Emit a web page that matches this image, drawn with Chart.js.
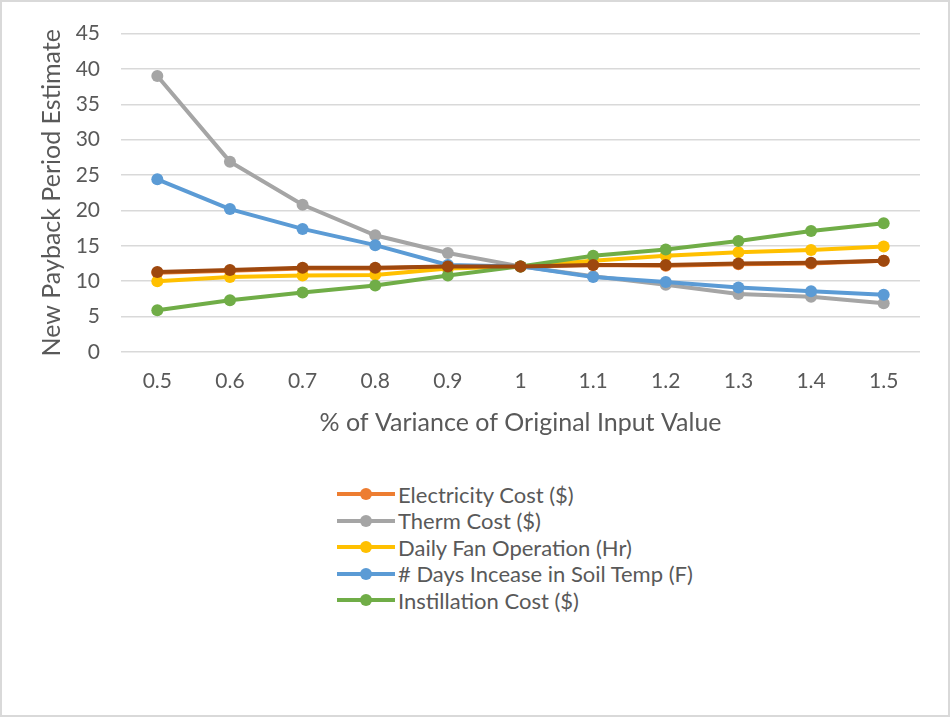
<!DOCTYPE html>
<html>
<head>
<meta charset="utf-8">
<script src="https://cdn.jsdelivr.net/npm/chart.js@4.4.1/dist/chart.umd.min.js"></script>
<style>
  html, body { margin: 0; padding: 0; background: #fff; }
  #frame {
    position: relative; width: 946px; height: 713px;
    border: 2px solid #d9d9d9; background: #fff; overflow: hidden;
  }
  #chartBox { position: absolute; left: -2px; top: -2px; width: 950px; height: 444px; }
  #legend {
    position: absolute; left: 335px; top: 479px;
    font-family: Lato, "DejaVu Sans", sans-serif; font-size: 22px; color: #595959;
  }
  .item { display: flex; align-items: center; height: 26.5px; white-space: nowrap; }
  .mark { position: relative; width: 58px; height: 26px; margin-right: 3px; flex: none; }
  .mark .ln { position: absolute; left: 0; right: 0; top: 11px; height: 4px; }
  .mark .pt { position: absolute; left: 23px; top: 7px; width: 12px; height: 12px; border-radius: 50%; }
</style>
</head>
<body>
<div id="frame">
  <div id="chartBox"><canvas id="graphCanvas"></canvas></div>
  <div id="legend"></div>
</div>
<script>
// カテゴリ（元の入力値に対する割合）
const categories = ["0.5", "0.6", "0.7", "0.8", "0.9", "1", "1.1", "1.2", "1.3", "1.4", "1.5"];

// 各系列の値
const electricityCost = [11.2, 11.5, 11.8, 11.8, 12.1, 12.1, 12.3, 12.2, 12.4, 12.5, 12.9];
const thermCost = [39.0, 26.9, 20.8, 16.5, 14.0, 12.1, 10.7, 9.5, 8.2, 7.8, 6.9];
const dailyFanOperation = [10.0, 10.6, 10.8, 10.9, 11.8, 12.1, 12.9, 13.6, 14.1, 14.4, 14.9];
const daysIncrease = [24.4, 20.2, 17.4, 15.1, 12.3, 12.1, 10.6, 9.9, 9.1, 8.6, 8.1];
const installationCost = [5.9, 7.3, 8.4, 9.4, 10.8, 12.1, 13.6, 14.5, 15.7, 17.1, 18.2];
const series6 = [11.3, 11.6, 11.9, 11.9, 12.1, 12.1, 12.3, 12.3, 12.5, 12.6, 12.9];

const yTicks = [0, 5, 10, 15, 20, 25, 30, 35, 40, 45];

const seriesDefs = [
  { label: "Electricity Cost ($)", data: electricityCost, color: "#ED7D31", legend: true },
  { label: "Therm Cost ($)", data: thermCost, color: "#A5A5A5", legend: true },
  { label: "Daily Fan Operation (Hr)", data: dailyFanOperation, color: "#FFC000", legend: true },
  { label: "# Days Incease in Soil Temp (F)", data: daysIncrease, color: "#5B9BD5", legend: true },
  { label: "Instillation Cost ($)", data: installationCost, color: "#70AD47", legend: true },
  { label: "Series6", data: series6, color: "#9E480E", legend: false },
];

const FONT = "Lato, 'DejaVu Sans', sans-serif";
const TEXT = "#595959";

const datasets = seriesDefs.map((s, i) => ({
  label: s.label,
  data: s.data,
  borderColor: s.color,
  backgroundColor: s.color,
  borderWidth: 4,
  pointRadius: 6,
  pointHoverRadius: 6,
  pointBorderWidth: 0,
  tension: 0,
  fill: false,
  order: seriesDefs.length - i, // 後の系列を上に描く
}));

const ctx = document.getElementById("graphCanvas").getContext("2d");
new Chart(ctx, {
  type: "line",
  data: { labels: categories, datasets: datasets },
  options: {
    animation: false,
    responsive: true,
    maintainAspectRatio: false,
    layout: { padding: { left: 37, right: 30, top: 24, bottom: 6 } },
    plugins: {
      legend: { display: false },
      tooltip: { enabled: false },
    },
    scales: {
      x: {
        offset: true,
        afterFit: (axis) => { axis.height = 86; },
        grid: { display: false, drawTicks: false },
        border: { display: false },
        ticks: { color: TEXT, font: { family: FONT, size: 21 }, padding: 17 },
        title: {
          display: true,
          text: "% of Variance of Original Input Value",
          color: TEXT,
          font: { family: FONT, size: 25 },
          padding: { top: 0, bottom: 0 },
        },
      },
      y: {
        min: 0,
        max: 45,
        afterFit: (axis) => { axis.width = 84; },
        afterBuildTicks: (axis) => { axis.ticks = yTicks.map((v) => ({ value: v })); },
        grid: { color: "#d9d9d9", lineWidth: 1.5, drawTicks: false },
        border: { display: false },
        ticks: { color: TEXT, font: { family: FONT, size: 21 }, padding: 21 },
        title: {
          display: true,
          text: "New Payback Period Estimate",
          color: TEXT,
          font: { family: FONT, size: 25 },
          padding: { top: 0, bottom: 0 },
        },
      },
    },
  },
});

// 凡例（HTML）
const legendEl = document.getElementById("legend");
seriesDefs.filter((s) => s.legend).forEach((s) => {
  const row = document.createElement("div");
  row.className = "item";
  row.innerHTML =
    '<span class="mark"><span class="ln" style="background:' + s.color + '"></span>' +
    '<span class="pt" style="background:' + s.color + '"></span></span>' +
    "<span>" + s.label + "</span>";
  legendEl.appendChild(row);
});
</script>
</body>
</html>
